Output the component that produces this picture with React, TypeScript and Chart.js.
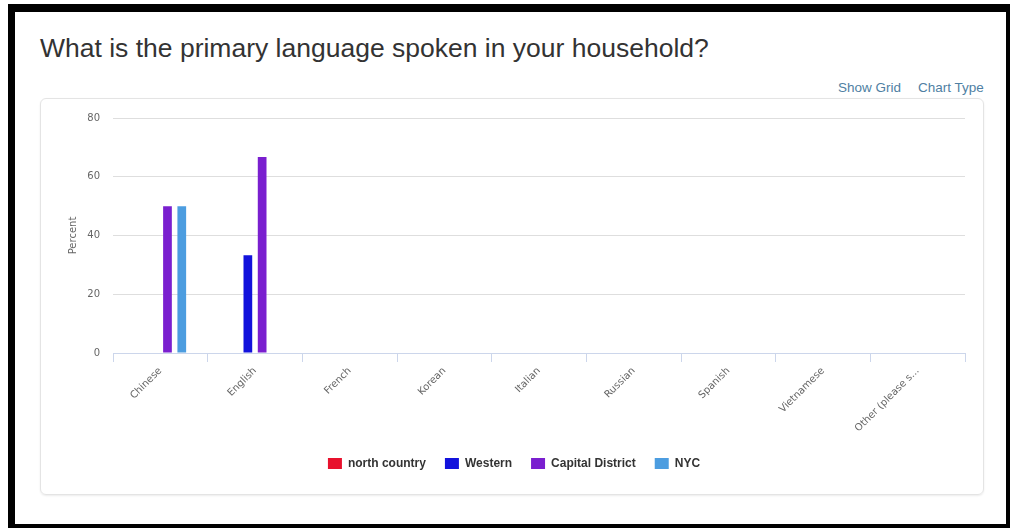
import React, { useEffect, useRef } from "react";
import { Chart, registerables } from "chart.js";

Chart.register(...registerables);

const TITLE = "What is the primary language spoken in your household?";
const categories = [
  "Chinese",
  "English",
  "French",
  "Korean",
  "Italian",
  "Russian",
  "Spanish",
  "Vietnamese",
  "Other (please s...",
];
const northCountry = [0, 0, 0, 0, 0, 0, 0, 0, 0];
const western = [0, 33.3, 0, 0, 0, 0, 0, 0, 0];
const capitalDistrict = [50, 66.7, 0, 0, 0, 0, 0, 0, 0];
const nyc = [50, 0, 0, 0, 0, 0, 0, 0, 0];
const yTicks = [0, 20, 40, 60, 80];

const seriesNames = ["north country", "Western", "Capital District", "NYC"];
const seriesColors = ["#e8112d", "#1212dc", "#7a1fcf", "#4c9de0"];

export default function App() {
  const ref = useRef<HTMLCanvasElement | null>(null);

  useEffect(() => {
    if (!ref.current) return;
    const seriesData = [northCountry, western, capitalDistrict, nyc];
    const chart = new Chart(ref.current, {
      type: "bar",
      data: {
        labels: categories,
        datasets: seriesNames.map((name, i) => ({
          label: name,
          data: seriesData[i],
          backgroundColor: seriesColors[i],
          borderWidth: 0,
          categoryPercentage: 0.604,
          barPercentage: 0.61,
        })),
      },
      options: {
        responsive: false,
        animation: false,
        devicePixelRatio: 1,
        layout: { padding: { left: 22, right: 18, top: 18, bottom: 14.5 } },
        plugins: {
          tooltip: { enabled: false },
          legend: {
            position: "bottom",
            labels: {
              boxWidth: 14,
              boxHeight: 11,
              padding: 19,
              color: "#333333",
              font: { family: "'Liberation Sans', Arial, sans-serif", size: 12, weight: "bold" },
            },
          },
        },
        scales: {
          x: {
            afterFit: (s: any) => {
              s.height = 85.5;
            },
            grid: {
              display: true,
              drawOnChartArea: false,
              drawTicks: true,
              tickLength: 9,
              color: "#ccd6eb",
              offset: true,
            },
            border: { display: true, color: "#ccd6eb", width: 1 },
            ticks: {
              autoSkip: false,
              minRotation: 45,
              maxRotation: 45,
              padding: 3,
              color: "#666666",
              font: { family: "'DejaVu Sans', sans-serif", size: 10 },
            },
          },
          y: {
            min: 0,
            max: 80,
            afterFit: (s: any) => {
              s.width = 50;
            },
            afterBuildTicks: (s: any) => {
              s.ticks = yTicks.map((v) => ({ value: v }));
            },
            grid: { color: "#dedede", lineWidth: 1, drawTicks: false },
            border: { display: false },
            ticks: {
              padding: 13,
              color: "#666666",
              font: { family: "'DejaVu Sans', sans-serif", size: 10 },
            },
            title: {
              display: true,
              text: "Percent",
              color: "#666666",
              font: { family: "'DejaVu Sans', sans-serif", size: 10 },
              padding: { top: 4, bottom: 4 },
            },
          },
        },
      },
    });
    return () => chart.destroy();
  }, []);

  return (
    <div style={{ position: "absolute", left: 0, top: 0, width: 1010, height: 528, background: "#ffffff", overflow: "hidden", fontFamily: "'Liberation Sans', Arial, sans-serif" }}>
      <div
        style={{
          position: "absolute",
          left: 8,
          top: 4,
          width: 1002,
          height: 524,
          boxSizing: "border-box",
          borderLeft: "7px solid #000",
          borderTop: "8px solid #000",
          borderRight: "4px solid #000",
          borderBottom: "4px solid #000",
        }}
      />
      <div style={{ position: "absolute", left: 40, top: 33, fontSize: 26.5, lineHeight: "30px", color: "#333333", whiteSpace: "nowrap" }}>
        {TITLE}
      </div>
      <div style={{ position: "absolute", left: 838, top: 80, fontSize: 13.5, lineHeight: "16px", color: "#4f7fa3", whiteSpace: "nowrap" }}>
        Show Grid
      </div>
      <div style={{ position: "absolute", left: 918, top: 80, fontSize: 13.5, lineHeight: "16px", color: "#4f7fa3", whiteSpace: "nowrap" }}>
        Chart Type
      </div>
      <div
        style={{
          position: "absolute",
          left: 40,
          top: 98,
          width: 944,
          height: 397,
          boxSizing: "border-box",
          border: "1px solid #e4e4e4",
          borderRadius: 6,
          boxShadow: "0 1px 2px rgba(0,0,0,0.08)",
        }}
      />
      <canvas ref={ref} width={942} height={395} style={{ position: "absolute", left: 41, top: 99, width: 942, height: 395 }} />
    </div>
  );
}
